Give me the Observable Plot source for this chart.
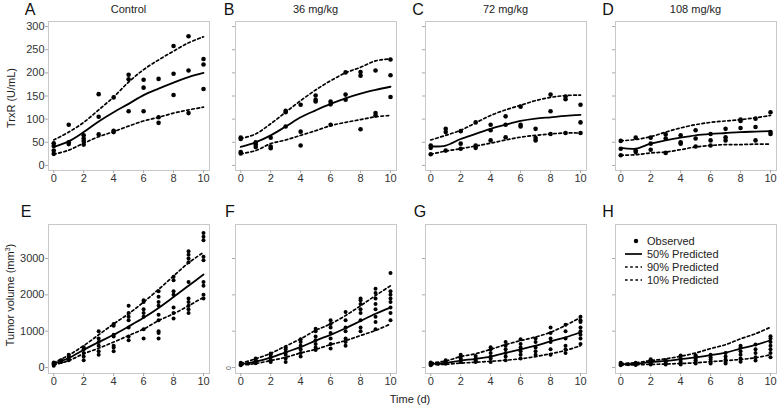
<!DOCTYPE html>
<html><head><meta charset="utf-8">
<script src="https://cdn.jsdelivr.net/npm/d3@7"></script>
<script src="https://cdn.jsdelivr.net/npm/@observablehq/plot@0.6"></script>
<style>
body{margin:0;background:#fff;font-family:"Liberation Sans",Arial,sans-serif;}
#c{position:relative;width:784px;height:408px;overflow:hidden;background:#fff}
.abs{position:absolute;white-space:nowrap;color:#222;line-height:1}
.plotbox{position:absolute}
</style></head><body><div id="c"></div>
<script>
// ---------- data ----------
const days = [0,1,2,3,4,5,6,7,8,9,10];
const xTicks = [0,2,4,6,8,10];
const trxrTicks = [0,50,100,150,200,250,300];
const tumorTicks = [0,1000,2000,3000];
const panelTitles = ["Control","36 mg/kg","72 mg/kg","108 mg/kg"];
const panelLetters = ["A","B","C","D","E","F","G","H"];
const legendLabels = ["Observed","50% Predicted","90% Predicted","10% Predicted"];

// TrxR observed [day, values]
const obsA = [[0,[48,42,32,25]],[1,[88,50,46]],[2,[65,58,53,45]],[3,[154,105,67]],[4,[147,75,72]],[5,[196,186,117]],[6,[185,168,117]],[7,[187,104,92]],[8,[258,198,152]],[9,[279,205,113]],[10,[230,218,165]]];
const obsB = [[0,[60,57,29,26]],[1,[50,45,40]],[2,[60,41,37]],[3,[118,115,84]],[4,[131,73,43]],[5,[151,142,138]],[6,[138,132,88]],[7,[201,153,142]],[8,[202,194,78]],[9,[205,113,108]],[10,[229,195,148]]];
const obsC = [[0,[43,38,24]],[1,[79,72,32]],[2,[74,47,36]],[3,[93,43,38]],[4,[88,76,54]],[5,[106,88,61]],[6,[127,88,84]],[7,[79,59,54]],[8,[153,117,68]],[9,[149,143,70]],[10,[131,93,70]]];
const obsD = [[0,[53,36,22]],[1,[60,32,29]],[2,[60,47,34]],[3,[67,58,27]],[4,[65,50,47]],[5,[76,58,41]],[6,[68,54,43]],[7,[79,61,54]],[8,[99,96,81]],[9,[101,83,54]],[10,[115,72,68]]];
// TrxR predicted (median, 90%, 10%)
const medA = [40,52,72,95,115,133,152,166,179,191,200];
const upA  = [55,72,93,120,148,180,207,228,247,265,278];
const loA  = [24,33,48,62,73,85,96,104,113,120,126];
const medB = [40,50,65,84,104,119,133,145,155,163,170];
const upB  = [58,68,90,115,140,163,183,200,212,226,230];
const loB  = [25,32,47,55,65,75,86,93,99,105,108];
const medC = [41,43,57,68,79,88,96,101,104,107,109];
const upC  = [55,65,76,92,108,120,130,140,147,151,152];
const loC  = [24,31,36,42,48,55,61,65,68,70,70];
const medD = [38,36,47,54,60,65,68,70,72,73,74];
const upD  = [53,56,62,72,81,88,93,96,99,103,108];
const loD  = [22,23,27,29,34,40,43,45,45,46,46];

// Tumor volume observed
const obsE = [[0,[50,80,100,120,140]],[0.5,[150,200]],[1,[200,250,300,350]],[2,[200,300,400,500,560]],[3,[350,450,600,700,800,1000]],[4,[450,550,600,850,900,1150,1200]],[5,[750,850,1100,1300,1400,1500,1700]],[6,[800,1050,1400,1500,1600,1800,1850]],[7,[800,950,1000,1300,1450,1700,1800,1950,2100]],[8,[1350,1500,1650,2000,2100,2400,2500]],[9,[1500,1600,1700,1800,1900,2350,2900,3000,3100,3200]],[10,[1900,2000,2250,2350,2950,3050,3500,3600,3700]]];
const obsF = [[0,[60,80,100,130]],[0.5,[110]],[1,[120,150,200,250]],[2,[150,200,280,350,385]],[3,[150,250,350,420,500,560]],[4,[300,400,500,600,700,780]],[5,[480,550,650,750,850,1000,1070]],[6,[520,650,800,950,1100,1200,1300]],[7,[600,700,800,1000,1100,1300,1530]],[8,[1000,1100,1300,1500,1600,1750,1850,1900]],[9,[1050,1250,1400,1600,1750,1900,2050,2170]],[10,[1300,1500,1650,1800,1900,2000,2100,2600]]];
const obsG = [[0,[60,80,100,120,140]],[0.5,[100]],[1,[100,130,160,200]],[2,[150,200,250,300,350]],[3,[150,200,250,320]],[4,[150,250,300,400,500,560]],[5,[200,300,400,500,600,700]],[6,[250,350,450,550,650,780]],[7,[350,450,550,700,800]],[8,[350,500,700,800,950,1100]],[9,[400,500,600,800,1000,1180]],[10,[650,800,900,1000,1100,1250,1300,1400]]];
const obsH = [[0,[60,90,110,130]],[0.5,[90]],[1,[70,90,110,130]],[2,[80,120,160,200,230]],[3,[80,120,160,200]],[4,[80,130,180,250,330]],[5,[110,150,200,250,300,340]],[6,[110,160,220,280,350]],[7,[110,160,220,300,400]],[8,[160,250,350,450,550,600]],[9,[190,280,400,500,630]],[10,[280,400,500,600,700,800,860]]];
// Tumor volume predicted
const medE = [100,260,490,700,900,1130,1370,1640,1940,2250,2560];
const upE  = [130,340,600,900,1200,1480,1800,2150,2520,2880,3170];
const loE  = [70,190,380,530,700,880,1060,1290,1480,1700,1930];
const medF = [90,160,270,420,560,740,900,1080,1280,1480,1650];
const upF  = [120,240,390,590,790,1020,1200,1430,1700,1980,2250];
const loF  = [70,110,190,280,400,500,630,740,880,1020,1200];
const medG = [100,130,190,240,300,400,500,600,720,830,970];
const upG  = [130,180,300,380,500,630,740,840,970,1160,1380];
const loG  = [75,90,120,145,170,200,240,300,380,470,600];
const medH = [90,100,150,180,230,280,340,410,520,620,750];
const upH  = [110,130,190,240,310,400,520,630,790,930,1110];
const loH  = [70,75,85,95,110,130,160,190,220,270,350];

// ---------- layout ----------
const C = document.getElementById("c");
const FW = 161, FH = 149;
const frameLefts = [48, 235, 425, 615];
const frameTops = [21, 224];

function addText(txt, x, y, size, opts = {}) {
  const d = document.createElement("div");
  d.className = "abs";
  d.textContent = txt;
  d.style.fontSize = size + "px";
  d.style.left = x + "px";
  d.style.top = y + "px";
  let tr = "translate(-50%,-50%)";
  if (opts.rotate) tr += " rotate(" + opts.rotate + "deg)";
  d.style.transform = tr;
  if (opts.color) d.style.color = opts.color;
  C.appendChild(d);
  return d;
}

function panel(col, row, obs, med, up, lo, yDomain, yTicks, r) {
  const ml = col === 0 ? 48 : 22, mr = 4, mt = row === 0 ? 21 : 29, mb = 25;
  const obsData = obs.flatMap(([d, vals]) => vals.map(v => ({d, v})));
  const ln = arr => days.map((d, i) => ({d, v: arr[i]}));
  const p = Plot.plot({
    width: ml + FW + mr, height: mt + FH + mb,
    marginLeft: ml, marginRight: mr, marginTop: mt, marginBottom: mb,
    style: {fontFamily: "Liberation Sans, Arial, sans-serif", fontSize: "11px", color: "#333", background: "transparent", overflow: "visible"},
    x: {domain: [-0.35, 10.4]},
    y: {domain: yDomain},
    marks: [
      Plot.frame({stroke: "#c8c8c8", strokeWidth: 1}),
      Plot.axisX({ticks: xTicks, tickSize: 3, tickPadding: 1, stroke: "#aaa", fill: "#333", label: null}),
      Plot.axisY({ticks: yTicks, tickSize: 3, tickPadding: 1, stroke: "#aaa", fill: "#333", label: null,
                  tickFormat: col === 0 ? (d => String(d)) : (() => "")}),
      Plot.line(ln(up), {x: "d", y: "v", curve: "catmull-rom", stroke: "#000", strokeWidth: 1.7, strokeDasharray: "2.6,2.6"}),
      Plot.line(ln(lo), {x: "d", y: "v", curve: "catmull-rom", stroke: "#000", strokeWidth: 1.7, strokeDasharray: "2.6,2.6"}),
      Plot.line(ln(med), {x: "d", y: "v", curve: "catmull-rom", stroke: "#000", strokeWidth: 1.8}),
      Plot.dot(obsData, {x: "d", y: "v", r: r, fill: "#000", stroke: "none"})
    ]
  });
  const box = document.createElement("div");
  box.className = "plotbox";
  box.style.left = (frameLefts[col] - ml) + "px";
  box.style.top = (frameTops[row] - mt) + "px";
  box.appendChild(p);
  C.appendChild(box);
}

const topDom = [-11, 311], botDom = [-165, 3936];
panel(0, 0, obsA, medA, upA, loA, topDom, trxrTicks, 2.3);
panel(1, 0, obsB, medB, upB, loB, topDom, trxrTicks, 2.3);
panel(2, 0, obsC, medC, upC, loC, topDom, trxrTicks, 2.3);
panel(3, 0, obsD, medD, upD, loD, topDom, trxrTicks, 2.3);
panel(0, 1, obsE, medE, upE, loE, botDom, tumorTicks, 2);
panel(1, 1, obsF, medF, upF, loF, botDom, tumorTicks, 2);
panel(2, 1, obsG, medG, upG, loG, botDom, tumorTicks, 2);
panel(3, 1, obsH, medH, upH, loH, botDom, tumorTicks, 2);

// titles and letters
const letterX = [[30, 229, 418, 608], [26, 230, 420, 608]];
const letterY = [10, 212];
panelLetters.forEach((L, i) => {
  const row = Math.floor(i / 4), col = i % 4;
  addText(L, letterX[row][col], letterY[row], 16, {color: "#111"});
});
panelTitles.forEach((t, i) => addText(t, frameLefts[i] + FW / 2, 9, 11));

addText("TrxR (U/mL)", 11, 98, 11, {rotate: -90});
const tv = addText("", 10, 295, 11, {rotate: -90});
tv.innerHTML = "Tumor volume (mm<sup style='font-size:7px;vertical-align:4px;line-height:0'>3</sup>)";
addText("0", 228, 368, 7, {rotate: -90, color: "#555"});
addText("Time (d)", 410, 399, 11);

// legend in panel H
const ns = "http://www.w3.org/2000/svg";
const lg = document.createElementNS(ns, "svg");
lg.setAttribute("width", 130); lg.setAttribute("height", 56);
lg.style.position = "absolute"; lg.style.left = "620px"; lg.style.top = "233px";
const rowsY = [8, 21, 34, 47];
legendLabels.forEach((lab, i) => {
  const y = rowsY[i];
  if (i === 0) {
    const c = document.createElementNS(ns, "circle");
    c.setAttribute("cx", 16); c.setAttribute("cy", y); c.setAttribute("r", 2.2); c.setAttribute("fill", "#000");
    lg.appendChild(c);
  } else {
    const l = document.createElementNS(ns, "line");
    l.setAttribute("x1", 5); l.setAttribute("x2", 22); l.setAttribute("y1", y); l.setAttribute("y2", y);
    l.setAttribute("stroke", "#000"); l.setAttribute("stroke-width", 1.7);
    if (i > 1) l.setAttribute("stroke-dasharray", "2.6,2.6");
    lg.appendChild(l);
  }
  const t = document.createElementNS(ns, "text");
  t.setAttribute("x", 27); t.setAttribute("y", y); t.setAttribute("dy", "0.35em");
  t.setAttribute("font-size", 11); t.setAttribute("fill", "#222");
  t.setAttribute("font-family", "Liberation Sans, Arial, sans-serif");
  t.textContent = lab;
  lg.appendChild(t);
});
C.appendChild(lg);
</script>
</body></html>
